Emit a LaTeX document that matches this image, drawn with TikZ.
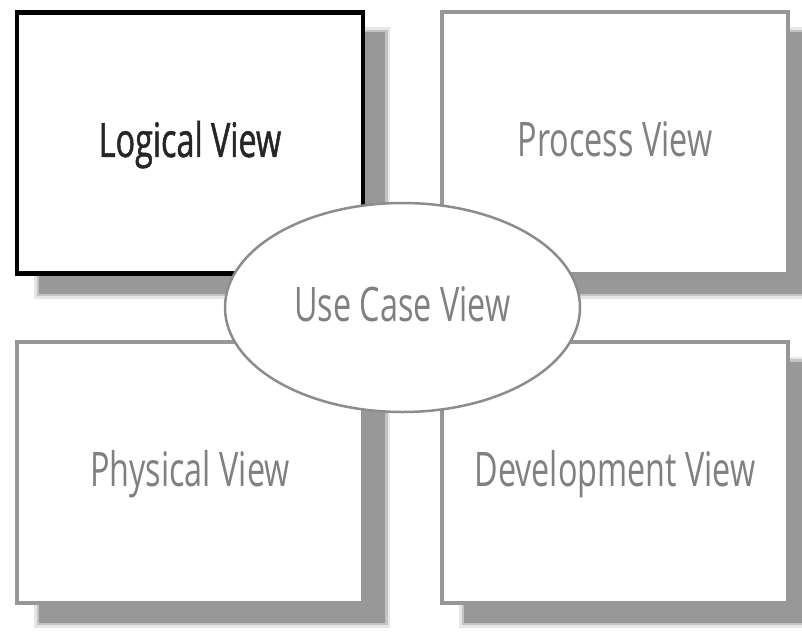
\documentclass[tikz,border=0pt]{standalone}
\usepackage{fontspec}
\newfontfamily\viewfont[FakeStretch=0.68]{Open Sans}
\newfontfamily\mainviewfont[FakeStretch=0.68,FakeBold=1]{Open Sans}
\usetikzlibrary{shapes.geometric,backgrounds}
\definecolor{boxgray}{HTML}{979797}
\definecolor{ellgray}{HTML}{8C8C8C}
\definecolor{shadowcore}{HTML}{989898}
\definecolor{shadowmid}{HTML}{C4C4C4}
\definecolor{shadowhalo}{HTML}{E6E6E6}
\definecolor{textgray}{HTML}{808080}
\definecolor{textdark}{HTML}{262626}
\begin{document}
\begin{tikzpicture}[x=1pt,y=-1pt,
  labelfont/.style={font=\viewfont\fontsize{47.6}{50}\selectfont, text height=35pt, text depth=7pt},
  viewbox/.style={rectangle, draw=boxgray, line width=4pt, fill=white, outer sep=0pt, inner sep=0pt,
    minimum width=346pt, minimum height=261pt, labelfont, text=textgray},
  mainbox/.style={viewbox, draw=black, line width=4.5pt, text=textdark,
    font=\mainviewfont\fontsize{47.6}{50}\selectfont},
  usecase/.style={ellipse, draw=ellgray, line width=2.5pt, fill=white, inner sep=0pt, outer sep=0pt,
    minimum width=355pt, minimum height=209pt, labelfont, text=textgray}]
\useasboundingbox (0,0) rectangle (802,631);

\node[mainbox] (logical) at (190,143) {Logical View};
\node[viewbox] (process) at (615,143) {Process View};
\node[viewbox] (physical) at (190,472) {Physical View};
\node[viewbox] (development) at (615,472) {Development View};

\begin{scope}[on background layer]
  \fill[white] (0,0) rectangle (802,631);
  \foreach \n in {logical,process,physical,development}{
    \fill[shadowhalo] ([shift={(17,15)}]\n.north west) rectangle ([shift={(27,25)}]\n.south east);
    \fill[shadowmid] ([shift={(19.5,17.5)}]\n.north west) rectangle ([shift={(24.5,22.5)}]\n.south east);
    \fill[shadowcore] ([shift={(22,20)}]\n.north west) rectangle ([shift={(22,20)}]\n.south east);
  }
\end{scope}

\node[usecase] (usecase) at (402.5,307.5) {Use Case View};
\end{tikzpicture}
\end{document}
